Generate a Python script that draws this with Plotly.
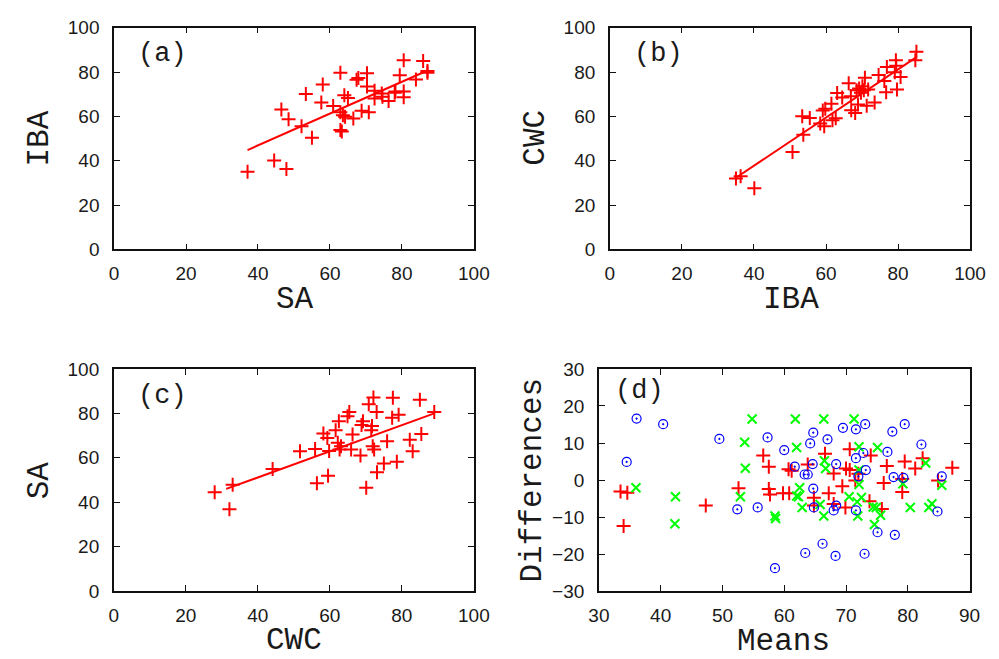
import plotly.graph_objects as go

# ---------------- data ----------------
# (a) SA vs IBA
a_sa = [37.1, 44.5, 47.9, 46.5, 48.5, 52.1, 53.3, 55.0, 57.6, 58.0, 60.9, 62.9, 62.9, 63.3,
        62.9, 63.6, 64.2, 64.0, 65.0, 66.5, 67.4, 67.9, 68.8, 70.3, 70.3, 70.8, 72.4, 72.4,
        74.4, 74.6, 76.3, 78.0, 78.2, 79.4, 80.5, 80.5, 80.5, 83.9, 85.9, 87.1, 87.1]
a_iba = [35.0, 40.1, 36.3, 63.1, 58.7, 55.5, 70.1, 50.4, 66.3, 74.4, 64.7, 79.7, 53.8, 53.2,
         61.9, 60.5, 59.8, 69.5, 68.3, 59.0, 76.5, 77.3, 62.5, 79.4, 73.5, 61.8, 71.5, 68.0,
         70.3, 68.9, 66.9, 70.6, 71.2, 78.5, 85.3, 71.2, 68.6, 76.6, 85.0, 80.5, 79.7]
a_fit_x = [37.1, 87.1]
a_fit_y = [44.8, 80.7]

# (b) IBA vs CWC
b_iba = [35.0, 36.3, 40.1, 50.7, 53.4, 55.5, 53.7, 58.4, 59.5, 59.1, 59.8, 61.5, 61.8, 62.7,
         63.1, 64.5, 66.3, 66.9, 67.0, 68.1, 68.5, 68.9, 69.2, 69.7, 70.1, 70.5, 70.8, 71.3,
         71.7, 73.5, 74.6, 76.2, 76.7, 76.9, 79.1, 79.4, 79.5, 79.7, 80.7, 84.8, 85.1]
b_cwc = [32.0, 33.0, 27.6, 43.9, 60.0, 59.3, 51.7, 56.8, 55.5, 62.6, 63.4, 65.7, 58.2, 59.1,
         70.5, 68.5, 74.9, 69.1, 62.8, 61.5, 71.8, 65.4, 72.6, 70.7, 73.6, 71.8, 77.4, 64.8,
         72.1, 66.3, 78.7, 75.9, 70.9, 82.3, 79.9, 85.3, 82.8, 72.1, 77.7, 85.3, 89.1]
b_fit_x = [35.0, 85.1]
b_fit_y = [32.3, 86.7]

# (c) CWC vs SA
c_cwc = [28.0, 32.1, 33.0, 44.1, 51.7, 55.9, 56.4, 58.2, 59.3, 59.5, 59.8, 61.6, 62.2, 62.5,
         62.7, 63.1, 64.9, 65.4, 66.3, 65.9, 68.5, 68.8, 69.2, 70.1, 70.8, 72.1, 71.7, 71.5,
         71.9, 72.3, 73.0, 73.1, 75.0, 75.9, 77.3, 77.5, 78.6, 79.1, 82.2, 83.0, 85.0, 85.4, 89.0]
c_sa = [44.5, 36.9, 47.9, 55.0, 63.0, 64.0, 48.6, 71.0, 68.9, 51.9, 63.1, 72.4, 66.8, 76.5,
        63.7, 65.2, 78.7, 80.6, 70.5, 63.7, 61.1, 74.8, 76.5, 46.5, 84.1, 87.1, 74.3, 72.4,
        65.2, 63.7, 80.6, 53.5, 57.5, 67.5, 78.0, 87.0, 58.2, 79.4, 68.1, 63.0, 86.1, 70.7, 80.6]
c_fit_x = [31.2, 89.2]
c_fit_y = [46.0, 80.1]

# (d) Bland-Altman: means vs differences
d_red_x = [33.5, 34.6, 34.0, 47.3, 52.6, 56.6, 57.5, 57.5, 57.7, 59.8, 60.8, 60.7, 61.2, 63.8,
           64.8, 64.8, 66.6, 67.2, 68.0, 68.0, 69.4, 69.9, 70.0, 70.6, 70.6, 71.5, 72.0, 74.0,
           73.8, 75.8, 76.6, 76.1, 79.1, 79.5, 79.1, 81.2, 82.4, 84.9, 87.2]
d_red_y = [-3.1, -3.4, -12.4, -6.9, -2.2, 6.6, 3.6, -2.4, -3.9, -3.6, -3.6, 2.9, 2.5, 4.2,
           -4.8, -6.9, 7.1, -3.6, 1.8, -6.5, -1.7, -7.4, 3.1, 2.7, 8.3, -0.1, 1.7, 6.6,
           -5.7, -7.8, 3.8, -0.8, -3.2, 5.0, 0.3, 3.1, 5.9, -0.1, 3.3]
d_green_x = [54.8, 61.8, 66.4, 71.3, 53.6, 62.0, 53.7, 72.1, 75.1, 66.5, 66.7, 72.1, 82.9, 79.2,
             85.5, 36.0, 72.1, 62.5, 62.0, 62.3, 52.9, 42.4, 42.3, 70.5, 72.5, 62.9, 65.8, 66.4,
             58.5, 58.6, 71.8, 71.9, 74.4, 74.9, 75.6, 74.6, 80.4, 83.4, 83.9]
d_green_y = [16.5, 16.5, 16.5, 16.5, 10.2, 8.8, 3.2, 9.0, 8.8, 5.2, 3.1, 2.7, 4.6, -1.0,
             -1.4, -2.1, -1.2, -2.1, -4.3, -4.5, -4.5, -4.5, -11.8, -4.5, -4.7, -7.4, -6.6, -9.7,
             -9.7, -10.4, -5.9, -9.7, -7.3, -7.4, -9.5, -12.0, -7.4, -7.4, -6.4]
d_blue_x = [36.1, 40.4, 34.5, 49.5, 57.3, 60.0, 61.7, 63.3, 63.8, 64.2, 64.7, 64.6, 64.7, 64.8,
            67.0, 68.4, 68.4, 68.0, 69.5, 71.6, 71.6, 72.0, 72.8, 73.1, 73.2, 71.6, 77.5, 76.7,
            77.7, 79.3, 79.5, 82.2, 85.5, 84.8, 75.1, 77.9, 66.2, 63.4, 68.3, 73.0, 58.5, 52.4, 55.7]
d_blue_y = [16.6, 15.1, 4.9, 11.1, 11.5, 8.1, 3.6, 1.5, 1.5, 9.9, 12.8, 4.3, -2.3, -7.4,
            11.0, 4.3, -6.9, -8.2, 14.1, 13.7, 5.9, 1.0, 7.3, 15.1, 2.7, -8.2, 13.1, 7.6,
            0.8, 0.6, 15.1, 9.6, 1.0, -8.5, -14.1, -14.8, -17.2, -19.7, -20.5, -19.9, -23.8, -7.9, -7.4]

panel_labels = ["(a)", "(b)", "(c)", "(d)"]
x_titles = ["SA", "IBA", "CWC", "Means"]
y_titles = ["IBA", "CWC", "SA", "Differences"]

# ---------------- figure ----------------
W, H = 999, 659
RED, GREEN, BLUE = "#ff0000", "#00ff00", "#0000ff"

fig = go.Figure()

def plus_trace(x, y, xa, ya):
    return go.Scatter(x=x, y=y, mode="markers", xaxis=xa, yaxis=ya, showlegend=False,
                      marker=dict(symbol="cross-thin", size=10, color=RED,
                                  line=dict(color=RED, width=2)))

def line_trace(x, y, xa, ya):
    return go.Scatter(x=x, y=y, mode="lines", xaxis=xa, yaxis=ya, showlegend=False,
                      line=dict(color=RED, width=2))

fig.add_trace(plus_trace(a_sa, a_iba, "x", "y"))
fig.add_trace(line_trace(a_fit_x, a_fit_y, "x", "y"))
fig.add_trace(plus_trace(b_iba, b_cwc, "x2", "y2"))
fig.add_trace(line_trace(b_fit_x, b_fit_y, "x2", "y2"))
fig.add_trace(plus_trace(c_cwc, c_sa, "x3", "y3"))
fig.add_trace(line_trace(c_fit_x, c_fit_y, "x3", "y3"))
fig.add_trace(plus_trace(d_red_x, d_red_y, "x4", "y4"))
fig.add_trace(go.Scatter(x=d_green_x, y=d_green_y, mode="markers", xaxis="x4", yaxis="y4",
                         showlegend=False,
                         marker=dict(symbol="x-thin", size=9, color=GREEN,
                                     line=dict(color=GREEN, width=2))))
fig.add_trace(go.Scatter(x=d_blue_x, y=d_blue_y, mode="markers", xaxis="x4", yaxis="y4",
                         showlegend=False,
                         marker=dict(symbol="circle-open-dot", size=9, color=BLUE,
                                     line=dict(color=BLUE, width=1.2))))

tickfont = dict(family="Liberation Sans, Arial, sans-serif", size=19, color="#1a1a1a")

def ax(domain, rng, dtick, anchor, standoff):
    return dict(domain=domain, range=rng, dtick=dtick, tick0=rng[0], anchor=anchor,
                showgrid=False, zeroline=False, showline=True, linecolor="#111",
                linewidth=1.6, mirror="ticks", ticks="inside", ticklen=6, tickwidth=1.2,
                tickcolor="#111", tickfont=tickfont, ticklabelstandoff=standoff)

def px_x(p):
    return p / W

def px_y(p):
    return 1 - p / H

xa_dom = [px_x(97.7), px_x(467.5)]
xb_dom = [px_x(607.3), px_x(977.5)]
xc_dom = [px_x(97.5), px_x(467.5)]
xd_dom = [px_x(596.0), px_x(977.0)]
ytop = [px_y(239.0), px_y(10.0)]
ybot = [px_y(592.0), px_y(362.5)]

fig.update_layout(
    width=W, height=H, margin=dict(l=0, r=0, t=0, b=0),
    paper_bgcolor="white", plot_bgcolor="white",
    xaxis=ax(xa_dom, [0, 100], 20, "y", 6),
    yaxis=ax(ytop, [0, 100], 20, "x", 9),
    xaxis2=ax(xb_dom, [0, 100], 20, "y2", 6),
    yaxis2=ax(ytop, [0, 100], 20, "x2", 9),
    xaxis3=ax(xc_dom, [0, 100], 20, "y3", 6),
    yaxis3=ax(ybot, [0, 100], 20, "x3", 9),
    xaxis4=ax(xd_dom, [30, 90], 10, "y4", 6),
    yaxis4=ax(ybot, [-30, 30], 10, "x4", 9),
)

mono = "Liberation Mono, Courier New, monospace"
ann = []
# panel labels
lab_pos = [(147, 37), (657, 37), (147, 390), (638, 385)]
for t, (px, py) in zip(panel_labels, lab_pos):
    ann.append(dict(text=t, x=px_x(px), y=px_y(py), xref="paper", yref="paper",
                    showarrow=False, xanchor="center", yanchor="middle",
                    font=dict(family=mono, size=27, color="#1a1a1a")))
# axis titles
xt_pos = [(284, 291), (793, 291), (283, 643), (786, 644)]
yt_pos = [(21, 124), (530, 124), (21, 477), (528, 477)]
for t, (px, py) in zip(x_titles, xt_pos):
    ann.append(dict(text=t, x=px_x(px), y=px_y(py), xref="paper", yref="paper",
                    showarrow=False, xanchor="center", yanchor="middle",
                    font=dict(family=mono, size=31, color="#1a1a1a")))
for t, (px, py) in zip(y_titles, yt_pos):
    ann.append(dict(text=t, x=px_x(px), y=px_y(py), xref="paper", yref="paper",
                    showarrow=False, xanchor="center", yanchor="middle", textangle=-90,
                    font=dict(family=mono, size=31, color="#1a1a1a")))
fig.update_layout(annotations=ann)

fig.write_html("out.html")
